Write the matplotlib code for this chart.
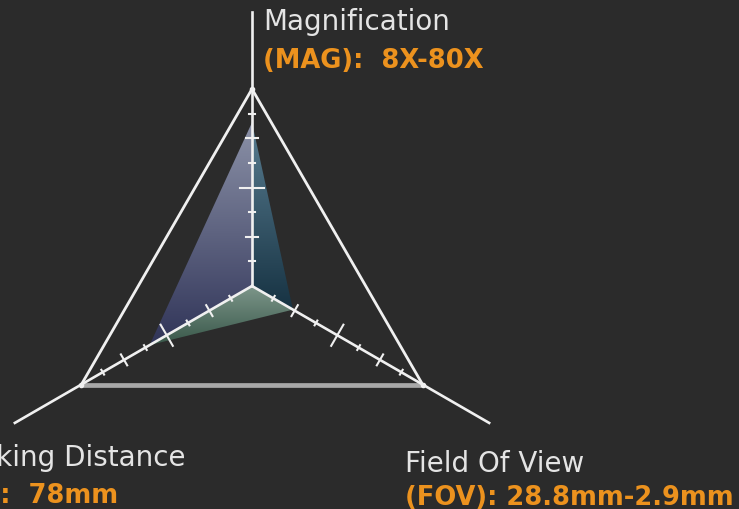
import numpy as np
import matplotlib
matplotlib.use("Agg")
import matplotlib.pyplot as plt
from matplotlib.patches import Polygon
from matplotlib.colors import LinearSegmentedColormap

# ---- data ----
axes_names = ["Magnification", "Working Distance", "Field Of View"]
axes_specs = ["(MAG):  8X-80X", "(WD):  78mm", "(FOV): 28.8mm-2.9mm"]
values = [0.83, 0.60, 0.24]          # normalised position of each axis value
angles_deg = [90, 210, 330]
tick_steps = [1, 2, 3, 4, 5, 6, 7]   # eighths of the axis

# ---- style ----
BG = "#2b2b2b"
ORANGE = "#ec921e"
WHITE = "#f0f0f0"
TEXT = "#e4e4e4"

W, H, DPI = 739, 510, 100
CX, CY, R = 252, 287, 197

fig = plt.figure(figsize=(W / DPI, H / DPI), dpi=DPI, facecolor=BG)
ax = fig.add_axes([0, 0, 1, 1])
ax.set_facecolor(BG)
ax.set_xlim(-CX / R, (W - CX) / R)
ax.set_ylim(-(H - CY) / R, CY / R)
ax.axis("off")

ang = np.deg2rad(angles_deg)
ux, uy = np.cos(ang), np.sin(ang)

# ---- gradient sectors ----
pts = [(v * x, v * y) for v, x, y in zip(values, ux, uy)]
sectors = [(0, 1, ("#8c92a8", "#303458")),
           (1, 2, ("#7e978b", "#385749")),
           (2, 0, ("#5a7e92", "#163242"))]
for i, j, (ctop, cbot) in sectors:
    poly = np.array([(0, 0), pts[i], pts[j]])
    x0, x1 = poly[:, 0].min(), poly[:, 0].max()
    y0, y1 = poly[:, 1].min(), poly[:, 1].max()
    cmap = LinearSegmentedColormap.from_list("g", [cbot, ctop])
    grad = np.linspace(1, 0, 256).reshape(-1, 1)
    im = ax.imshow(grad, cmap=cmap, extent=(x0, x1, y0, y1), aspect="auto",
                   origin="upper", zorder=1, interpolation="bilinear")
    patch = Polygon(poly, closed=True, transform=ax.transData)
    im.set_clip_path(patch)

# ---- outer triangle ----
for k in range(3):
    a, b = k, (k + 1) % 3
    if {a, b} == {1, 2}:
        ax.plot([ux[a], ux[b]], [uy[a], uy[b]], color="#a8a8a8", lw=3.4,
                solid_capstyle="butt", zorder=2)
    else:
        ax.plot([ux[a], ux[b]], [uy[a], uy[b]], color=WHITE, lw=2.0, zorder=3)

# ---- axes with ticks ----
ext = 1.39
for x, y in zip(ux, uy):
    ax.plot([0, ext * x], [0, ext * y], color=WHITE, lw=1.9, zorder=4)
    px, py = -y, x
    for s in tick_steps:
        r = s / 8
        if s == 4:
            L = 0.062
        elif s in (2, 6):
            L = 0.032
        else:
            L = 0.014
        ax.plot([r * x - L * px, r * x + L * px], [r * y - L * py, r * y + L * py],
                color=WHITE, lw=1.5, zorder=4)
    ax.plot([x], [y], marker="o", ms=3, color=WHITE, zorder=5)

# ---- labels ----
def d(px_, py_):
    return (px_ - CX) / R, (CY - py_) / R

fs_name, fs_spec = 20, 18.5
x, y = d(263, 30)
ax.text(x, y, axes_names[0], color=TEXT, fontsize=fs_name, va="baseline", ha="left")
x, y = d(263, 68)
ax.text(x, y, axes_specs[0], color=ORANGE, fontsize=fs_spec, fontweight="bold", va="baseline", ha="left")

x, y = d(186, 466)
ax.text(x, y, axes_names[1], color=TEXT, fontsize=fs_name, va="baseline", ha="right")
x, y = d(118, 503)
ax.text(x, y, axes_specs[1], color=ORANGE, fontsize=fs_spec, fontweight="bold", va="baseline", ha="right")

x, y = d(405, 472)
ax.text(x, y, axes_names[2], color=TEXT, fontsize=fs_name, va="baseline", ha="left")
x, y = d(405, 505)
ax.text(x, y, axes_specs[2], color=ORANGE, fontsize=fs_spec, fontweight="bold", va="baseline", ha="left")

fig.savefig("out.png", dpi=DPI, facecolor=BG)
